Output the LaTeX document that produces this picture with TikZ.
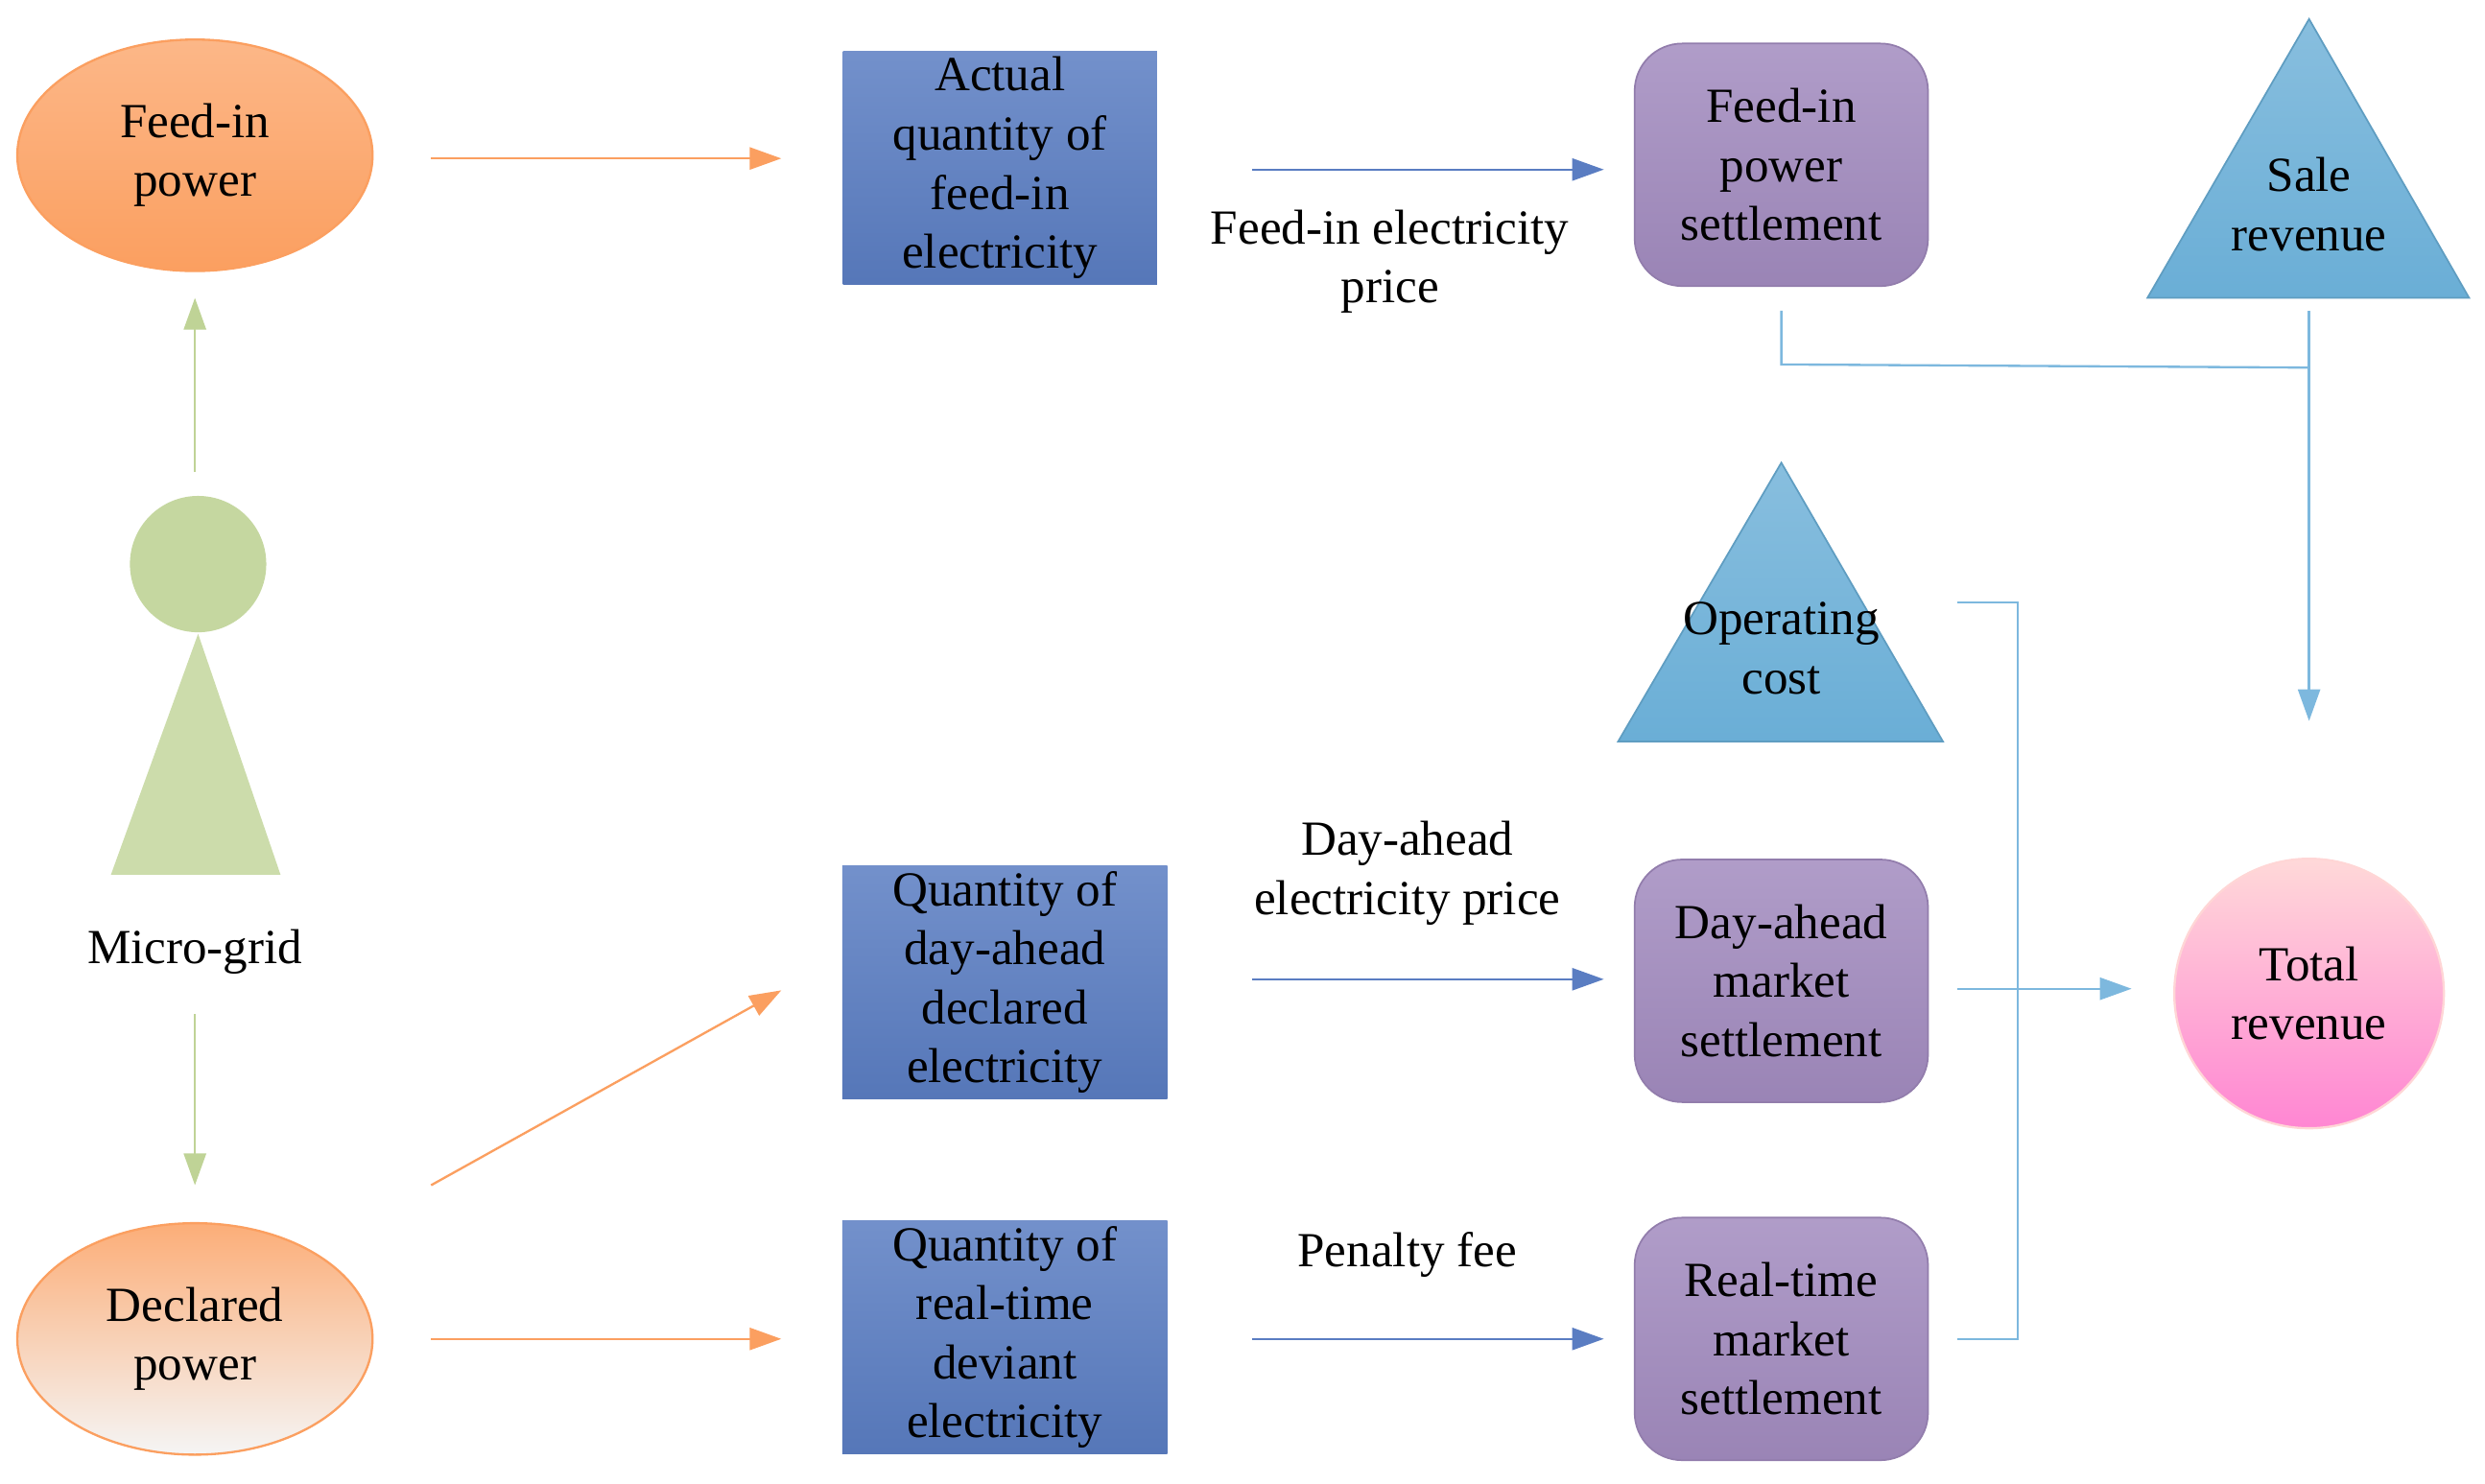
\documentclass[tikz,border=0pt]{standalone}
\usepackage{fontspec}
\setmainfont{Liberation Serif}
\usetikzlibrary{arrows.meta,shapes.geometric}
\definecolor{org}{HTML}{FB9F60}
\definecolor{grn}{HTML}{BFD396}
\definecolor{bl}{HTML}{5A7DC2}
\definecolor{pur}{HTML}{A28BBF}
\definecolor{tri}{HTML}{6AAED6}
\definecolor{lb}{HTML}{7DB8DE}
\begin{document}
\begin{tikzpicture}[x=0.01cm,y=-0.01cm,
  font=\fontsize{8.8}{10.6}\selectfont,
  txt/.style={align=center},
  ar/.style={-{Triangle[length=2mm,width=1.4mm]},line width=0.4pt},
  box/.style={draw=none,top color=bl!85!white,bottom color=bl!95!black,minimum width=2cm,minimum height=1.47cm,align=center,inner sep=0pt},
  sett/.style={draw=pur!90!black,line width=0.3pt,rounded corners=0.3cm,top color=pur!85!white,bottom color=pur!95!black,minimum width=1.85cm,minimum height=1.53cm,align=center,inner sep=0pt},
  trig/.style={draw=tri!90!black,line width=0.3pt,top color=tri!80!white,bottom color=tri},
]
\useasboundingbox (0,0) rectangle (1568,936);
% ellipses
\node[ellipse,minimum width=2.24cm,minimum height=1.46cm,draw=org,top color=org!75!white,bottom color=org,txt] (fp) at (123,98) {Feed-in\\power};
\node[ellipse,minimum width=2.24cm,minimum height=1.46cm,draw=org,top color=org!85!white,bottom color=gray!8,txt] (dp) at (123,845) {Declared\\power};
% micro-grid person
\fill[grn!80!white] (70,552) -- (125,400) -- (177,552) -- cycle;
\node[circle,minimum size=0.86cm,fill=grn!90!white,inner sep=0pt] (head) at (125,356) {};
\node[txt] (mg) at (123,601) {Micro-grid};
\coordinate (g1s) at (123,298); \coordinate (g1e) at (123,188);
\coordinate (g2s) at (123,640); \coordinate (g2e) at (123,748);
\draw[ar,grn] (g1s) -- (g1e);
\draw[ar,grn] (g2s) -- (g2e);
% boxes
\node[box,minimum width=1.98cm] (b1) at (631,106) {Actual\\quantity of\\feed-in\\electricity};
\node[box,minimum width=2.05cm] (b2) at (634,620) {Quantity of\\day-ahead\\declared\\electricity};
\node[box,minimum width=2.05cm] (b3) at (634,844) {Quantity of\\real-time\\deviant\\electricity};
% orange arrows
\coordinate (o1s) at (272,100); \coordinate (o1e) at (493,100);
\coordinate (o2s) at (272,748); \coordinate (o2e) at (493,625);
\coordinate (o3s) at (272,845); \coordinate (o3e) at (493,845);
\draw[ar,org] (o1s) -- (o1e);
\draw[ar,org] (o2s) -- (o2e);
\draw[ar,org] (o3s) -- (o3e);
% settlements
\node[sett] (s1) at (1124,104) {Feed-in\\power\\settlement};
\node[sett] (s2) at (1124,619) {Day-ahead\\market\\settlement};
\node[sett] (s3) at (1124,845) {Real-time\\market\\settlement};
% blue arrows
\coordinate (p1s) at (790,107); \coordinate (p1e) at (1012,107);
\coordinate (p2s) at (790,618); \coordinate (p2e) at (1012,618);
\coordinate (p3s) at (790,845); \coordinate (p3e) at (1012,845);
\draw[ar,bl] (p1s) -- (p1e);
\draw[ar,bl] (p2s) -- (p2e);
\draw[ar,bl] (p3s) -- (p3e);
\node[txt] (l1) at (877,165) {Feed-in electricity\\price};
\node[txt] (l2) at (888,551) {Day-ahead\\electricity price};
\node[txt] (l3) at (888,792) {Penalty fee};
% triangles
\draw[trig] (1355,188) -- (1457,12) -- (1558,188) -- cycle;
\node[txt] (sr) at (1457,129) {Sale\\revenue};
\draw[trig] (1021,468) -- (1124,292) -- (1226,468) -- cycle;
\node[txt] (oc) at (1124,409) {Operating\\cost};
% total revenue
\node[circle,minimum size=1.7cm,draw=pink!80!red!40,top color=pink!60!white,bottom color=magenta!30!pink,txt,inner sep=0pt] (tr) at (1457,627) {Total\\revenue};
% light blue connectors
\coordinate (c1) at (1124,196); \coordinate (c2) at (1124,230);
\coordinate (c3) at (1457,232); \coordinate (c4) at (1457,196); \coordinate (c5) at (1457,455);
\draw[lb,line width=0.4pt] (c1) -- (c2) -- (c3);
\draw[ar,lb] (c4) -- (c5);
\coordinate (d1) at (1235,380); \coordinate (d2) at (1273,380);
\coordinate (d3) at (1273,845); \coordinate (d4) at (1235,845);
\draw[lb,line width=0.4pt] (d1) -- (d2) -- (d3) -- (d4);
\coordinate (e1) at (1235,624); \coordinate (e2) at (1345,624);
\draw[ar,lb] (e1) -- (e2);
\end{tikzpicture}
\end{document}
